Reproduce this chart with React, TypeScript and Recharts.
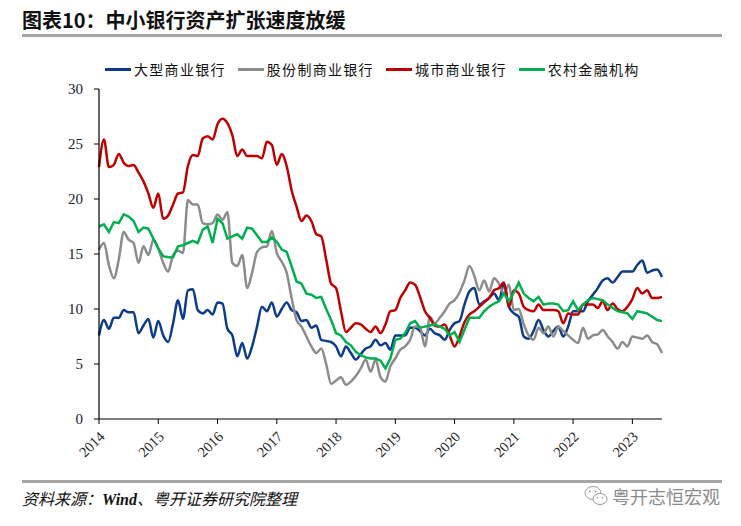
import { LineChart, Line, XAxis, YAxis } from 'recharts'

const YEARS = ['2014', '2015', '2016', '2017', '2018', '2019', '2020', '2021', '2022', '2023']
const Y_TICKS = [0, 5, 10, 15, 20, 25, 30]

// 月度数据，2014-01 至 2023-07
const BIG = [
  7.6, 9.0, 8.2, 9.2, 9.2, 9.9, 9.7, 9.7, 7.8, 8.5, 9.1, 7.4,
  8.9, 7.6, 7.0, 8.7, 10.8, 9.1, 11.7, 11.8, 9.9, 9.6, 9.9, 9.5,
  10.6, 10.5, 8.2, 7.6, 5.7, 6.9, 5.5, 6.6, 8.4, 10.2, 9.8, 10.6,
  9.3, 10.0, 10.6, 9.9, 9.7, 8.9, 9.0, 8.3, 8.5, 7.2, 7.1, 7.0,
  6.6, 5.7, 6.6, 6.0, 5.4, 5.9, 6.4, 6.6, 7.2, 6.7, 6.9, 6.3,
  7.6, 7.6, 7.6, 8.3, 8.3, 8.0, 7.6, 8.2, 7.8, 7.6, 7.2, 8.1,
  8.7, 8.9, 10.4, 11.6, 11.9, 10.4, 10.7, 11.0, 11.4, 10.8, 12.3, 10.2,
  9.6, 9.3, 7.5, 7.3, 8.0, 9.0, 8.1, 7.5, 8.0, 8.4, 7.5, 8.4,
  9.8, 9.8, 9.8, 10.7, 11.3, 11.9, 12.6, 12.8, 12.4, 12.9, 13.4, 13.4,
  13.4, 14.0, 14.4, 13.3, 13.5, 13.6, 12.9,
]

const JOINT = [
  15.4, 16.0, 14.0, 12.8, 14.5, 17.0, 16.3, 16.0, 14.2, 15.7, 14.9, 16.3,
  15.5, 14.2, 13.4, 14.9, 15.3, 15.1, 19.9, 19.5, 19.5, 17.8, 17.7, 17.8,
  18.6, 18.1, 18.8, 14.2, 13.9, 14.9, 11.9, 13.3, 15.2, 15.6, 15.7, 17.1,
  15.1, 14.3, 13.3, 11.0, 9.0, 8.4, 7.5, 6.6, 6.0, 6.4, 5.0, 3.2,
  3.5, 3.8, 3.1, 3.4, 3.9, 4.6, 5.4, 4.3, 5.4, 3.8, 3.4, 4.8,
  5.5, 6.3, 6.6, 7.2, 8.4, 8.3, 6.6, 9.3, 8.7, 9.2, 9.8, 10.5,
  10.8, 11.5, 12.6, 13.9, 13.0, 11.7, 12.6, 11.6, 12.8, 12.3, 11.4, 12.2,
  9.9, 10.0, 8.6, 7.6, 7.2, 8.3, 7.8, 8.4, 7.5, 8.4, 8.0, 7.6,
  7.2, 6.9, 8.3, 7.3, 7.6, 7.7, 8.1, 7.5, 7.0, 6.4, 7.0, 6.6,
  7.5, 7.4, 7.3, 7.6, 7.0, 6.8, 6.0,
]

const CITY = [
  22.9, 25.4, 22.9, 23.1, 24.1, 23.3, 23.0, 23.1, 22.4, 21.6, 20.5, 19.2,
  20.5, 18.2, 18.5, 19.5, 20.5, 20.6, 23.0, 24.0, 23.9, 25.5, 25.7, 25.4,
  26.8, 27.3, 26.9, 25.8, 23.9, 24.5, 23.9, 23.9, 23.9, 23.7, 25.2, 24.9,
  23.1, 24.1, 23.0, 20.8, 19.3, 18.0, 18.5, 18.0, 16.8, 16.6, 14.5, 12.3,
  11.9, 9.8, 7.9, 8.3, 8.7, 8.6, 8.2, 7.9, 8.4, 7.8, 8.6, 9.8,
  9.9, 11.0, 11.7, 12.4, 12.2, 11.1, 9.8, 9.2, 8.5, 8.4, 8.6, 7.6,
  6.6, 7.5, 8.8, 9.5, 9.8, 10.2, 10.6, 11.0, 11.7, 11.9, 12.4, 10.2,
  11.7, 11.4, 10.2, 9.9, 9.8, 10.4, 9.9, 9.9, 9.9, 9.8, 8.7, 9.6,
  9.5, 9.5, 10.4, 10.4, 10.4, 10.1, 10.7, 9.9, 10.5, 10.0, 9.8, 10.2,
  10.9, 11.9, 11.4, 11.7, 11.0, 11.0, 11.1,
]

const RURAL = [
  17.5, 17.7, 17.0, 17.9, 17.8, 18.6, 18.4, 18.0, 17.0, 17.4, 17.3, 16.4,
  15.5, 14.8, 14.7, 14.7, 15.7, 15.8, 16.0, 16.2, 16.0, 17.2, 17.5, 16.0,
  18.2, 17.8, 16.4, 16.6, 16.8, 16.4, 17.4, 17.3, 16.7, 16.1, 16.1, 16.5,
  16.1, 15.4, 15.2, 13.9, 12.5, 12.3, 11.4, 11.3, 11.0, 11.1, 10.0, 9.0,
  7.8, 7.6, 7.0, 6.7, 6.1, 5.8, 5.6, 5.5, 5.5, 5.3, 4.6, 5.5,
  7.2, 7.3, 7.8, 8.7, 8.9, 8.3, 8.4, 8.5, 8.6, 8.4, 8.2, 7.6,
  7.9, 7.0, 8.1, 9.2, 9.2, 9.2, 9.8, 10.2, 10.5, 10.7, 11.4, 10.7,
  11.5, 12.4, 11.4, 11.0, 10.7, 11.1, 10.4, 10.5, 10.5, 10.4, 9.8, 9.9,
  10.7, 9.9, 10.4, 10.8, 11.0, 10.9, 10.8, 10.4, 10.1, 9.8, 9.7, 9.6,
  9.1, 9.8, 9.7, 9.6, 9.3, 9.0, 8.9,
]

const SERIES = [
  { key: 'big', name: '大型商业银行', color: '#0c3b8c', curve: 'monotone' },
  { key: 'joint', name: '股份制商业银行', color: '#8c8c8c', curve: 'monotone' },
  { key: 'city', name: '城市商业银行', color: '#c00000', curve: 'monotone' },
  { key: 'rural', name: '农村金融机构', color: '#00b050', curve: 'linear' },
] as const

const data = BIG.map((v, i) => ({
  idx: i,
  big: v,
  joint: JOINT[i],
  city: CITY[i],
  rural: RURAL[i],
}))

const CJK = '"Noto Sans CJK SC", sans-serif'
const SERIF = '"Liberation Serif", "Times New Roman", serif'

function YearTick(props: any) {
  const { x, y, payload } = props
  return (
    <g transform={`translate(${x + 3},${y})`}>
      <text
        transform="rotate(-45)"
        textAnchor="end"
        dy="0.35em"
        fontFamily={SERIF}
        fontSize={14.5}
        fill="#222"
      >
        {YEARS[Math.round(payload.value / 12)]}
      </text>
    </g>
  )
}

export default function App() {
  return (
    <div style={{ position: 'absolute', left: 0, top: 0, width: 741, height: 526, background: '#fff', overflow: 'hidden' }}>
      <div style={{ position: 'absolute', left: 22, top: 5, fontFamily: CJK, fontSize: 20, fontWeight: 700, color: '#111', whiteSpace: 'nowrap' }}>
        图表10：中小银行资产扩张速度放缓
      </div>
      <div style={{ position: 'absolute', left: 22, top: 34, width: 700, height: 3, background: '#a6a6a6' }} />

      <div style={{ position: 'absolute', left: 105, top: 59, display: 'flex', alignItems: 'center', fontFamily: CJK, fontSize: 14, color: '#111', whiteSpace: 'nowrap' }}>
        {SERIES.map((s) => (
          <div key={s.key} style={{ display: 'flex', alignItems: 'center', marginRight: 12 }}>
            <span style={{ display: 'inline-block', width: 26, height: 3, background: s.color, marginRight: 3 }} />
            <span style={{ letterSpacing: 1.3 }}>{s.name}</span>
          </div>
        ))}
      </div>

      <div style={{ position: 'absolute', left: 0, top: 0 }}>
        <LineChart width={741} height={526} data={data} margin={{ top: 89, right: 79, bottom: 67, left: 0 }}>
          <XAxis
            type="number"
            dataKey="idx"
            domain={[0, 114]}
            ticks={YEARS.map((_, k) => k * 12)}
            interval={0}
            height={40}
            tickSize={5}
            tickMargin={10}
            tick={<YearTick />}
            axisLine={{ stroke: '#000', strokeWidth: 1.2 }}
            tickLine={{ stroke: '#000' }}
          />
          <YAxis
            domain={[0, 30]}
            ticks={Y_TICKS}
            interval={0}
            width={99}
            tickSize={5}
            tickMargin={11}
            tick={{ fontFamily: SERIF, fontSize: 15, fill: '#1a1a33' }}
            axisLine={{ stroke: '#000', strokeWidth: 1.2 }}
            tickLine={{ stroke: '#000' }}
          />
          {SERIES.map((s) => (
            <Line
              key={s.key}
              type={s.curve}
              dataKey={s.key}
              name={s.name}
              stroke={s.color}
              strokeWidth={2.5}
              dot={false}
              isAnimationActive={false}
            />
          ))}
        </LineChart>
      </div>

      <div style={{ position: 'absolute', left: 22, top: 480, width: 700, height: 3, background: '#a6a6a6' }} />
      <div style={{ position: 'absolute', left: 22, top: 486, fontFamily: CJK, fontSize: 16, fontStyle: 'italic', color: '#111', whiteSpace: 'nowrap' }}>
        资料来源：<span style={{ fontFamily: SERIF, fontWeight: 700 }}>Wind</span>、粤开证券研究院整理
      </div>
      <div style={{ position: 'absolute', left: 584, top: 483, display: 'flex', alignItems: 'center', fontFamily: CJK, fontSize: 18, color: '#8a8a8a', whiteSpace: 'nowrap' }}>
        <svg width={24} height={22} viewBox="0 0 24 22" style={{ marginRight: 4 }}>
          <ellipse cx={9} cy={8} rx={8} ry={6.5} fill="none" stroke="#9a9a9a" strokeWidth={1} />
          <ellipse cx={16} cy={14} rx={7} ry={5.5} fill="#fff" stroke="#9a9a9a" strokeWidth={1} />
          <circle cx={6} cy={6.5} r={0.9} fill="#9a9a9a" />
          <circle cx={11.5} cy={6.5} r={0.9} fill="#9a9a9a" />
          <circle cx={13.5} cy={13} r={0.8} fill="#9a9a9a" />
          <circle cx={18.5} cy={13} r={0.8} fill="#9a9a9a" />
        </svg>
        粤开志恒宏观
      </div>
    </div>
  )
}
